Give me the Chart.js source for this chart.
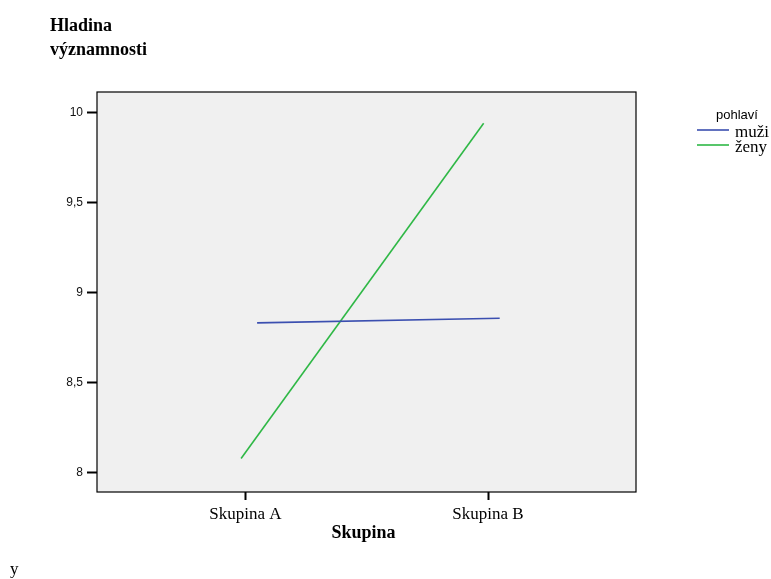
<!DOCTYPE html>
<html lang="cs">
<head>
    <meta charset="UTF-8">
    <title>Hladina významnosti - Skupina</title>
    <style>
        body {
            margin: 0;
            padding: 0;
            background-color: white;
        }
        #chart {
            display: block;
        }
    </style>
    <script src="https://cdn.jsdelivr.net/npm/chart.js"></script>
</head>
<body>
    <canvas id="chart" width="771" height="579"></canvas>

    <script>
        // data
        const categories = ['Skupina A', 'Skupina B'];
        const seriesNames = ['muži', 'ženy'];
        const muzi = [8.832, 8.858];
        const zeny = [8.078, 9.941];
        const yTicks = [8, 8.5, 9, 9.5, 10];
        const yTickLabels = ['8', '8,5', '9', '9,5', '10'];

        const colors = ['#3b4fb0', '#2fb846'];
        const shift = [0.048, -0.018]; // SPSS draws the lines slightly off the category

        const serif = '"Liberation Serif", "Times New Roman", serif';
        const sans = '"Liberation Sans", Arial, sans-serif';

        function toPoints(values, s) {
            return values.map((v, i) => ({ x: i + s, y: v }));
        }

        const framePlugin = {
            id: 'frame',
            beforeDatasetsDraw(chart) {
                const a = chart.chartArea;
                const ctx = chart.ctx;
                ctx.save();
                ctx.fillStyle = '#f0f0f0';
                ctx.fillRect(a.left, a.top, a.right - a.left, a.bottom - a.top);
                ctx.restore();
            },
            afterDraw(chart) {
                const a = chart.chartArea;
                const ctx = chart.ctx;
                ctx.save();
                ctx.strokeStyle = '#000';
                ctx.lineWidth = 1.2;
                ctx.strokeRect(a.left, a.top, a.right - a.left, a.bottom - a.top);

                ctx.fillStyle = '#000';
                ctx.textBaseline = 'alphabetic';

                // y axis title
                ctx.font = 'bold 18px ' + serif;
                ctx.textAlign = 'left';
                ctx.fillText('Hladina', 50, 31);
                ctx.fillText('významnosti', 50, 55);

                // x axis title
                ctx.textAlign = 'center';
                ctx.fillText('Skupina', (a.left + a.right) / 2 - 3, 538);

                // legend
                ctx.font = '13px ' + sans;
                ctx.textAlign = 'left';
                ctx.fillText('pohlaví', 716, 119);
                ctx.font = '17px ' + serif;
                const rows = [130, 145];
                seriesNames.forEach((name, i) => {
                    ctx.strokeStyle = colors[i];
                    ctx.lineWidth = 1.6;
                    ctx.beginPath();
                    ctx.moveTo(697, rows[i]);
                    ctx.lineTo(729, rows[i]);
                    ctx.stroke();
                    ctx.fillText(name, 735, rows[i] + 7);
                });

                // stray caption at bottom
                ctx.fillText('y', 10, 574);
                ctx.restore();
            }
        };

        new Chart(document.getElementById('chart'), {
            type: 'line',
            data: {
                datasets: [
                    {
                        label: seriesNames[0],
                        data: toPoints(muzi, shift[0]),
                        borderColor: colors[0],
                        borderWidth: 1.6,
                        pointRadius: 0,
                        tension: 0
                    },
                    {
                        label: seriesNames[1],
                        data: toPoints(zeny, shift[1]),
                        borderColor: colors[1],
                        borderWidth: 1.6,
                        pointRadius: 0,
                        tension: 0
                    }
                ]
            },
            options: {
                responsive: false,
                animation: false,
                layout: {
                    padding: { left: 0, top: 92, right: 135, bottom: 0 }
                },
                plugins: {
                    legend: { display: false },
                    tooltip: { enabled: false }
                },
                scales: {
                    x: {
                        type: 'linear',
                        min: -0.612,
                        max: 1.61,
                        afterBuildTicks(scale) {
                            scale.ticks = categories.map((c, i) => ({ value: i }));
                        },
                        afterFit(scale) {
                            scale.height = 87;
                        },
                        border: { display: false },
                        grid: {
                            drawOnChartArea: false,
                            drawTicks: true,
                            tickLength: 8,
                            tickWidth: 2,
                            tickColor: '#000'
                        },
                        ticks: {
                            padding: 4,
                            color: '#000',
                            font: { family: serif, size: 17 },
                            maxRotation: 0,
                            callback: (value) => categories[value]
                        }
                    },
                    y: {
                        min: 7.892,
                        max: 10.115,
                        afterBuildTicks(scale) {
                            scale.ticks = yTicks.map(v => ({ value: v }));
                        },
                        afterFit(scale) {
                            scale.width = 97;
                        },
                        border: { display: false },
                        grid: {
                            drawOnChartArea: false,
                            drawTicks: true,
                            tickLength: 10,
                            tickWidth: 2,
                            tickColor: '#000'
                        },
                        ticks: {
                            padding: 4,
                            color: '#111',
                            font: { family: sans, size: 12 },
                            callback: (value) => yTickLabels[yTicks.indexOf(value)]
                        }
                    }
                }
            },
            plugins: [framePlugin]
        });
    </script>
</body>
</html>
